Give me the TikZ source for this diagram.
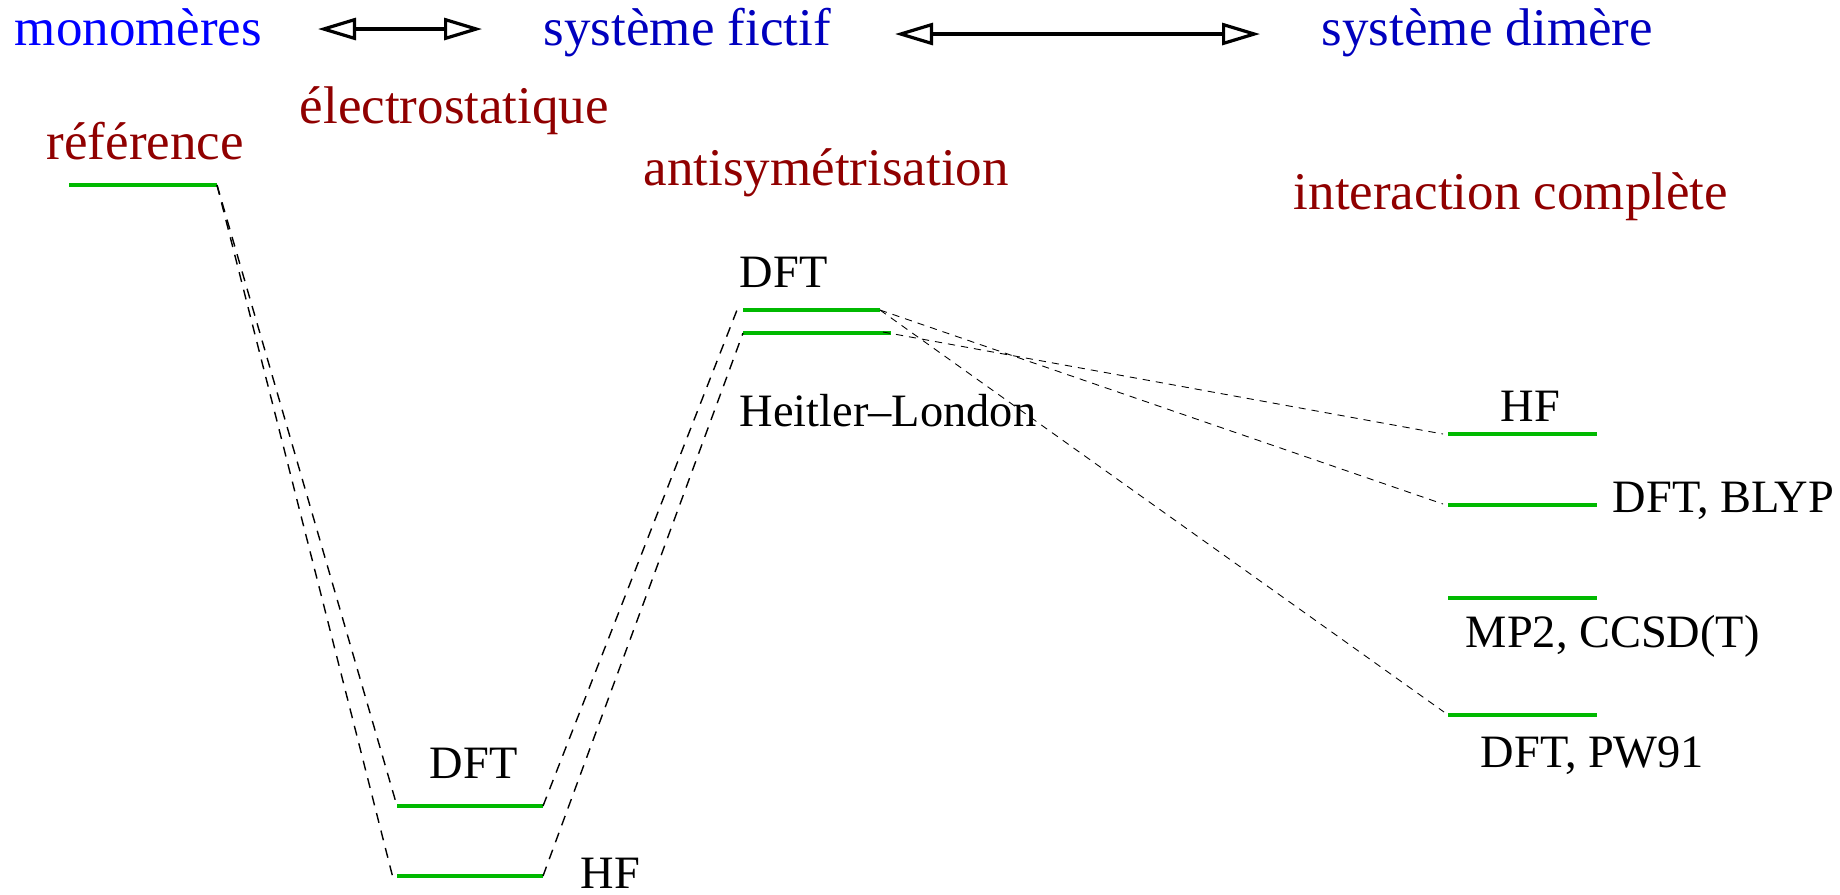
\documentclass[tikz,border=0pt]{standalone}
\usepackage{fontspec}
\setmainfont{Liberation Serif}
\usetikzlibrary{arrows.meta}
\definecolor{levgreen}{RGB}{0,185,0}
\definecolor{brightblue}{RGB}{0,0,255}
\definecolor{darkblue}{RGB}{0,0,190}
\definecolor{darkred}{RGB}{144,0,0}
\begin{document}
\begin{tikzpicture}[x=0.25pt,y=-0.25pt,
  lvl/.style={draw=levgreen, line width=0.85pt},
  dbl/.style={draw=black, line width=0.35pt, dash pattern=on 2.5pt off 2pt},
  fineconn/.style={draw=black, line width=0.22pt, dash pattern=on 1.8pt off 1.5pt},
  biarrow/.style={draw=black, line width=0.8pt, {Triangle[open,length=9.5pt,width=5.5pt]}-{Triangle[open,length=9.5pt,width=5.5pt]}},
  bigtxt/.style={inner sep=0pt, anchor=base west, font=\fontsize{13.25}{16}\selectfont},
  smalltxt/.style={inner sep=0pt, anchor=base west, font=\fontsize{11.6}{14}\selectfont},
]
\useasboundingbox (0,0) rectangle (1840,894);

% top row
\node[bigtxt, text=brightblue] (mono) at (14,45) {monomères};
\node[bigtxt, text=darkblue] (fictif) at (543,45) {système fictif};
\node[bigtxt, text=darkblue] (dimere) at (1321,45) {système dimère};
\coordinate (a1L) at (318,29);
\coordinate (a1R) at (482,29);
\coordinate (a2L) at (895,34);
\coordinate (a2R) at (1260,34);
\draw[biarrow] (a1L) -- (a1R);
\draw[biarrow] (a2L) -- (a2R);

% stage titles
\node[bigtxt, text=darkred] (ref) at (46,159) {référence};
\node[bigtxt, text=darkred] (elec) at (299,123) {électrostatique};
\node[bigtxt, text=darkred] (anti) at (643,185) {antisymétrisation};
\node[bigtxt, text=darkred] (inter) at (1293,209) {interaction complète};

% levels
\coordinate (refL) at (69,185);   \coordinate (refR) at (217,185);
\coordinate (dftBL) at (397,806); \coordinate (dftBR) at (543,806);
\coordinate (hfBL) at (397,876);  \coordinate (hfBR) at (543,876);
\coordinate (dftFL) at (743,310); \coordinate (dftFR) at (880,310);
\coordinate (hlFL) at (743,333);  \coordinate (hlFR) at (891,333);
\coordinate (hfDL) at (1448,434); \coordinate (hfDR) at (1597,434);
\coordinate (blDL) at (1448,505); \coordinate (blDR) at (1597,505);
\coordinate (mpDL) at (1448,598); \coordinate (mpDR) at (1597,598);
\coordinate (pwDL) at (1448,715); \coordinate (pwDR) at (1597,715);

\draw[lvl] (refL) -- (refR);
\draw[lvl] (dftBL) -- (dftBR);
\draw[lvl] (hfBL) -- (hfBR);
\draw[lvl] (dftFL) -- (dftFR);
\draw[lvl] (hlFL) -- (hlFR);
\draw[lvl] (hfDL) -- (hfDR);
\draw[lvl] (blDL) -- (blDR);
\draw[lvl] (mpDL) -- (mpDR);
\draw[lvl] (pwDL) -- (pwDR);

% connector end points
\coordinate (hfBc) at (393,878);
\coordinate (dftFc) at (737,310);
\coordinate (hlFc) at (883,332);
\coordinate (hfDc) at (1443,434);
\coordinate (blDc) at (1443,504);
\coordinate (pwDc) at (1444,712);

% dashed connectors
\draw[dbl] (refR) -- (dftBL);
\draw[dbl] (refR) -- (hfBc);
\draw[dbl] (dftBR) -- (dftFc);
\draw[dbl] (hfBR) -- (hlFL);
\draw[fineconn] (dftFR) -- (blDc);
\draw[fineconn] (dftFR) -- (pwDc);
\draw[fineconn] (hlFc) -- (hfDc);

% level labels
\node[smalltxt] (dftB) at (429,778) {DFT};
\node[smalltxt] (hfB) at (580,888) {HF};
\node[smalltxt] (dftF) at (739,287) {DFT};
\node[smalltxt] (hlF) at (739,426) {Heitler--London};
\node[smalltxt] (hfD) at (1500,421) {HF};
\node[smalltxt] (blD) at (1612,512) {DFT, BLYP};
\node[smalltxt] (mpD) at (1465,647) {MP2, CCSD(T)};
\node[smalltxt] (pwD) at (1480,767) {DFT, PW91};
\end{tikzpicture}
\end{document}
